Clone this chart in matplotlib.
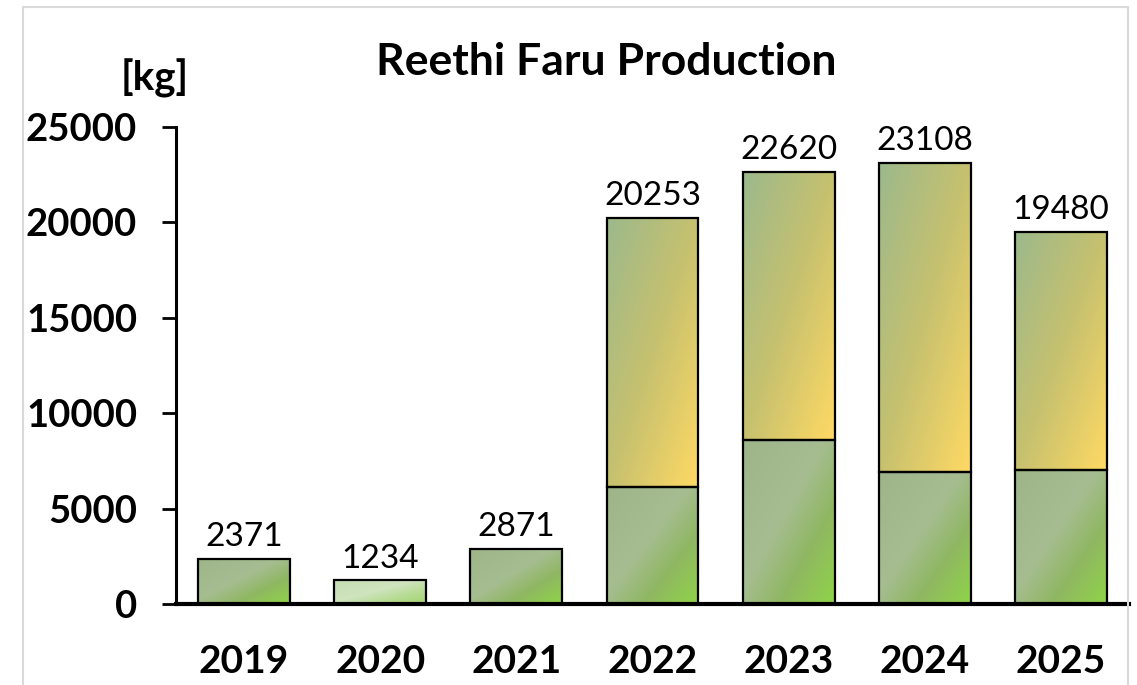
import numpy as np
import matplotlib
matplotlib.use("Agg")
import matplotlib.pyplot as plt
from matplotlib.colors import LinearSegmentedColormap
from matplotlib.patches import Rectangle

years = ["2019", "2020", "2021", "2022", "2023", "2024", "2025"]
bottom_vals = [2371, 1234, 2871, 6150, 8600, 6900, 7000]
totals = [2371, 1234, 2871, 20253, 22620, 23108, 19480]
top_vals = [t - b for t, b in zip(totals, bottom_vals)]
y_ticks = [0, 5000, 10000, 15000, 20000, 25000]

FONT = "Lato"

green_cmap = LinearSegmentedColormap.from_list(
    "g", [(0.0, "#9db589"), (0.45, "#a6bd91"), (0.7, "#8fb762"), (1.0, "#8fd448")])
light_cmap = LinearSegmentedColormap.from_list(
    "lg", [(0.0, "#c5ddb2"), (0.45, "#cfe4bf"), (0.7, "#b8dc96"), (1.0, "#a3d46e")])
yellow_cmap = LinearSegmentedColormap.from_list(
    "y", [(0.0, "#9cb98c"), (0.5, "#c6c16f"), (1.0, "#ffd964")])

fig = plt.figure(figsize=(11.37, 6.85), dpi=100)
fig.patch.set_facecolor("white")
ax = fig.add_axes([0.1548, 0.1182, 0.8382, 0.6964])

xs = np.arange(len(years))
width = 0.675

nx, ny = 60, 120
u = np.linspace(0, 1, nx)[None, :]
v = np.linspace(0, 1, ny)[:, None]
grad = (u + v) / 2.0  # row 0 = top (imshow origin upper)


def grad_bar(x, y0, h, cmap):
    bars = ax.bar(x, h, width, bottom=y0, facecolor="none", edgecolor="black",
                  linewidth=1.6, zorder=3)
    p = bars[0]
    im = ax.imshow(grad, cmap=cmap, vmin=0, vmax=1, aspect="auto",
                   extent=[x - width / 2, x + width / 2, y0, y0 + h],
                   origin="upper", zorder=2, interpolation="bilinear")
    im.set_clip_path(p)


for i, x in enumerate(xs):
    cm = light_cmap if years[i] == "2020" else green_cmap
    grad_bar(x, 0, bottom_vals[i], cm)
    if top_vals[i] > 0:
        grad_bar(x, bottom_vals[i], top_vals[i], yellow_cmap)
    ax.annotate(str(totals[i]), (x, totals[i]), xytext=(0, 5),
                textcoords="offset points", ha="center", va="bottom",
                fontsize=24, family=FONT, color="black")

ax.set_xlim(-0.5, len(years) - 0.5)
ax.set_ylim(0, 25000)
ax.set_yticks(y_ticks)
ax.set_yticklabels([str(t) for t in y_ticks], fontsize=27.5, fontweight="bold", family=FONT)
ax.set_xticks(xs)
ax.set_xticklabels(years, fontsize=28, fontweight="bold", family=FONT)
ax.tick_params(axis="x", length=0, pad=29)
ax.tick_params(axis="y", length=10, width=2, pad=18, direction="out")
for s in ["top", "right"]:
    ax.spines[s].set_visible(False)
ax.spines["left"].set_linewidth(2.2)
ax.spines["bottom"].set_linewidth(3)
ax.spines["bottom"].set_zorder(4)

fig.text(606 / 1137, 1 - 62 / 685, "Reethi Faru Production", ha="center", va="center",
         fontsize=32, fontweight="bold", family=FONT)
fig.text(155 / 1137, 1 - 78 / 685, "[kg]", ha="center", va="center",
         fontsize=29, fontweight="bold", family=FONT)

fig.patches.append(Rectangle((23 / 1137, -0.1), (1128 - 23) / 1137, 1.1 - 7 / 685,
                             transform=fig.transFigure, fill=False,
                             edgecolor="#d9d9d9", linewidth=1.5))

fig.savefig("out.png", dpi=100)
